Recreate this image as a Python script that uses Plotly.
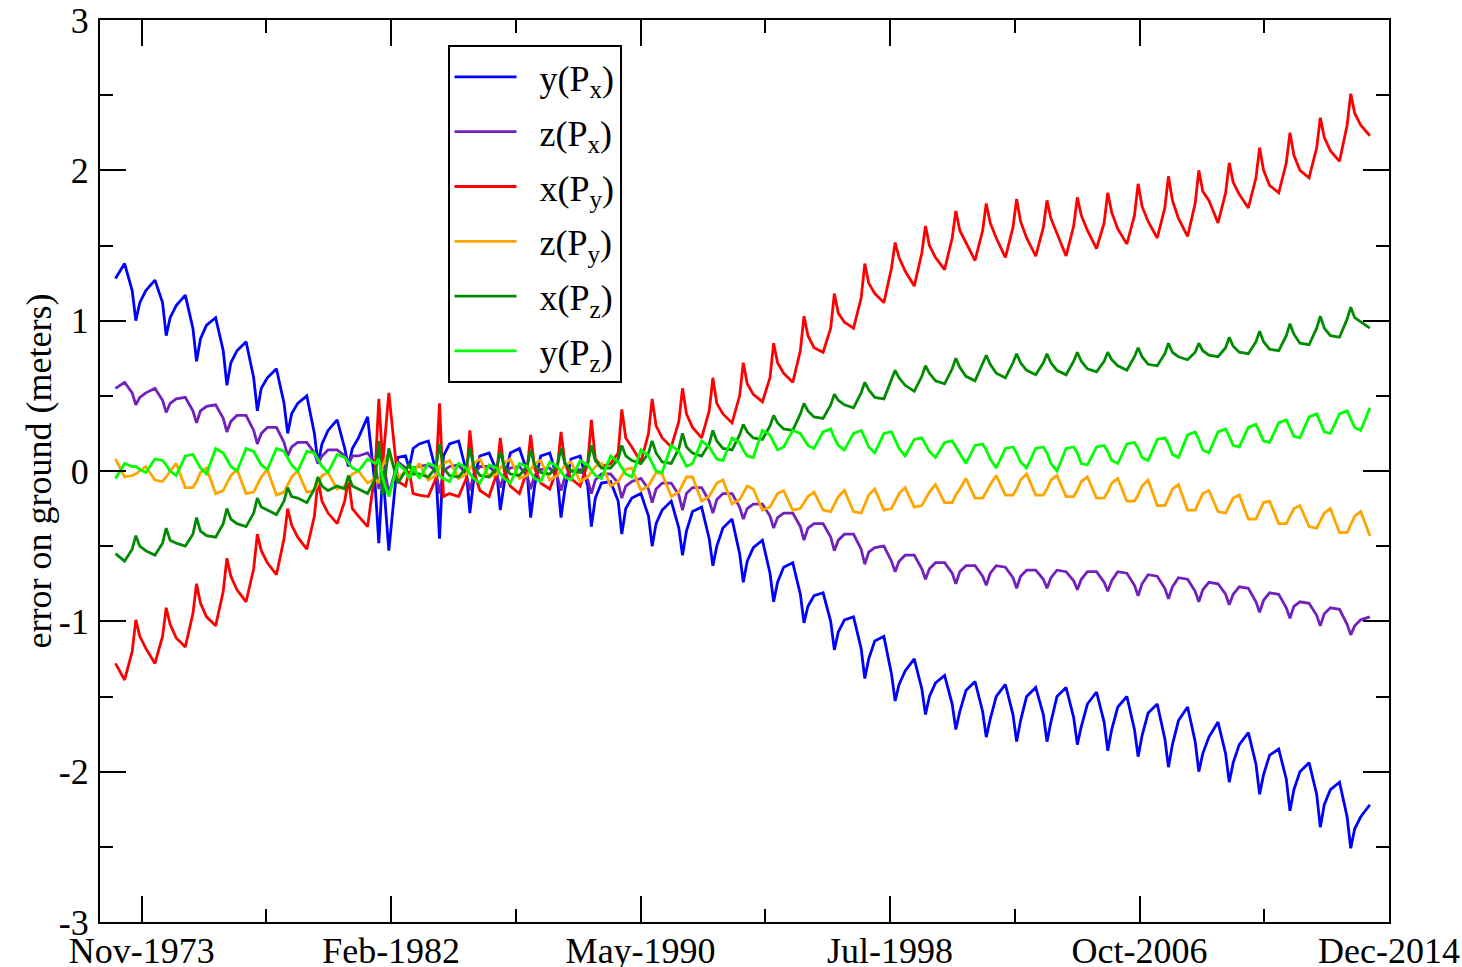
import pandas as pd
import plotly.graph_objects as go

# ---------------- data ----------------
# sample times: 5 samples per year at these fractions of the year
years = list(range(1973, 2015))
phases = [0.05, 0.35, 0.60, 0.72, 0.85]
t_end = 2014.36

# y(Px)  (blue)
y_Px = [
    1.28, 1.38, 1.20, 1.00, 1.12,      # 1973
    1.20, 1.27, 1.12, 0.90, 1.02,      # 1974
    1.10, 1.17, 0.95, 0.73, 0.88,      # 1975
    0.97, 1.02, 0.80, 0.57, 0.72,      # 1976
    0.80, 0.86, 0.62, 0.40, 0.55,      # 1977
    0.62, 0.68, 0.45, 0.25, 0.38,      # 1978
    0.45, 0.50, 0.25, 0.05, 0.18,      # 1979
    0.27, 0.34, 0.15, 0.03, 0.15,      # 1980
    0.22, 0.36, -0.10, -0.48, 0.00,    # 1981
    -0.53, 0.09, 0.10, 0.02, 0.15,     # 1982
    0.18, 0.20, 0.00, -0.45, 0.10,     # 1983
    0.18, 0.20, 0.00, -0.28, -0.05,    # 1984
    0.10, 0.12, 0.00, -0.26, -0.08,    # 1985
    0.12, 0.15, 0.00, -0.31, -0.10,    # 1986
    0.10, 0.12, -0.05, -0.31, -0.12,   # 1987
    0.08, 0.10, -0.10, -0.37, -0.18,   # 1988
    -0.08, -0.07, -0.20, -0.42, -0.25, # 1989
    -0.18, -0.15, -0.30, -0.50, -0.35, # 1990
    -0.26, -0.20, -0.38, -0.56, -0.40, # 1991
    -0.27, -0.24, -0.45, -0.63, -0.50, # 1992
    -0.38, -0.32, -0.55, -0.74, -0.60, # 1993
    -0.51, -0.46, -0.68, -0.87, -0.74, # 1994
    -0.64, -0.61, -0.82, -1.01, -0.90, # 1995
    -0.83, -0.81, -1.00, -1.19, -1.07, # 1996
    -0.99, -0.97, -1.18, -1.38, -1.25, # 1997
    -1.13, -1.10, -1.35, -1.53, -1.42, # 1998
    -1.33, -1.25, -1.45, -1.62, -1.50, # 1999
    -1.41, -1.36, -1.55, -1.72, -1.60, # 2000
    -1.46, -1.40, -1.60, -1.77, -1.65, # 2001
    -1.50, -1.42, -1.62, -1.80, -1.66, # 2002
    -1.50, -1.44, -1.62, -1.80, -1.67, # 2003
    -1.50, -1.44, -1.64, -1.82, -1.70, # 2004
    -1.55, -1.47, -1.67, -1.86, -1.72, # 2005
    -1.57, -1.50, -1.72, -1.90, -1.76, # 2006
    -1.61, -1.55, -1.78, -1.97, -1.82, # 2007
    -1.66, -1.57, -1.80, -2.00, -1.88, # 2008
    -1.77, -1.67, -1.88, -2.07, -1.94, # 2009
    -1.82, -1.74, -1.95, -2.15, -2.02, # 2010
    -1.89, -1.85, -2.05, -2.26, -2.12, # 2011
    -2.00, -1.94, -2.15, -2.37, -2.22, # 2012
    -2.12, -2.07, -2.30, -2.51, -2.38, # 2013
    -2.30, -2.22,                      # 2014
]

# z(Px)  (purple)
z_Px = [
    0.55, 0.59, 0.52, 0.44, 0.49,
    0.52, 0.55, 0.47, 0.39, 0.45,
    0.48, 0.49, 0.40, 0.32, 0.40,
    0.43, 0.44, 0.35, 0.26, 0.33,
    0.37, 0.37, 0.27, 0.18, 0.25,
    0.29, 0.29, 0.19, 0.10, 0.16,
    0.19, 0.19, 0.12, 0.05, 0.10,
    0.14, 0.14, 0.10, 0.04, 0.10,
    0.10, 0.12, 0.05, -0.12, 0.08,
    -0.15, 0.06, 0.02, -0.03, 0.02,
    0.03, 0.04, 0.00, -0.15, 0.00,
    0.03, 0.04, -0.02, -0.13, -0.02,
    0.03, 0.03, -0.02, -0.11, -0.02,
    0.02, 0.03, -0.03, -0.12, -0.03,
    0.01, 0.02, -0.04, -0.13, -0.04,
    0.00, 0.01, -0.06, -0.15, -0.06,
    -0.02, -0.02, -0.08, -0.18, -0.10,
    -0.07, -0.05, -0.12, -0.21, -0.12,
    -0.08, -0.08, -0.16, -0.26, -0.15,
    -0.11, -0.11, -0.20, -0.28, -0.19,
    -0.15, -0.15, -0.24, -0.32, -0.25,
    -0.22, -0.22, -0.30, -0.38, -0.31,
    -0.28, -0.28, -0.37, -0.46, -0.38,
    -0.35, -0.35, -0.44, -0.53, -0.46,
    -0.42, -0.42, -0.52, -0.62, -0.54,
    -0.51, -0.50, -0.60, -0.67, -0.60,
    -0.56, -0.56, -0.65, -0.72, -0.65,
    -0.61, -0.61, -0.68, -0.75, -0.67,
    -0.63, -0.63, -0.70, -0.76, -0.68,
    -0.63, -0.64, -0.71, -0.78, -0.70,
    -0.66, -0.66, -0.72, -0.78, -0.71,
    -0.66, -0.67, -0.73, -0.79, -0.72,
    -0.67, -0.67, -0.74, -0.80, -0.73,
    -0.67, -0.68, -0.76, -0.83, -0.75,
    -0.69, -0.70, -0.78, -0.85, -0.77,
    -0.71, -0.72, -0.80, -0.87, -0.79,
    -0.74, -0.75, -0.82, -0.89, -0.82,
    -0.77, -0.78, -0.87, -0.94, -0.86,
    -0.81, -0.82, -0.91, -0.98, -0.90,
    -0.87, -0.88, -0.96, -1.03, -0.95,
    -0.91, -0.92, -1.02, -1.09, -1.03,
    -0.99, -0.97,
]

# x(Py)  (red)
x_Py = [
    -1.28, -1.39, -1.20, -0.99, -1.10,
    -1.18, -1.28, -1.10, -0.91, -1.02,
    -1.11, -1.17, -0.95, -0.75, -0.88,
    -0.97, -1.03, -0.80, -0.58, -0.70,
    -0.79, -0.87, -0.65, -0.42, -0.53,
    -0.61, -0.69, -0.45, -0.25, -0.36,
    -0.44, -0.52, -0.30, -0.06, -0.20,
    -0.28, -0.35, -0.20, -0.05, -0.25,
    -0.30, -0.37, 0.00, 0.48, 0.05,
    0.52, -0.07, -0.10, 0.00, -0.15,
    -0.16, -0.17, -0.05, 0.45, -0.17,
    -0.15, -0.17, -0.05, 0.27, 0.00,
    -0.13, -0.17, -0.02, 0.22, 0.00,
    -0.10, -0.15, 0.00, 0.24, 0.02,
    -0.08, -0.12, 0.02, 0.26, 0.05,
    -0.05, -0.10, 0.05, 0.34, 0.08,
    0.03, 0.05, 0.12, 0.41, 0.22,
    0.16, 0.06, 0.25, 0.48, 0.30,
    0.22, 0.16, 0.33, 0.55, 0.38,
    0.29, 0.22, 0.40, 0.62, 0.45,
    0.38, 0.32, 0.50, 0.72, 0.58,
    0.51, 0.46, 0.62, 0.85, 0.72,
    0.65, 0.59, 0.80, 1.03, 0.90,
    0.82, 0.79, 0.95, 1.18, 1.05,
    0.99, 0.95, 1.15, 1.38, 1.25,
    1.18, 1.12, 1.35, 1.52, 1.42,
    1.33, 1.23, 1.45, 1.63, 1.50,
    1.42, 1.34, 1.55, 1.73, 1.60,
    1.52, 1.40, 1.60, 1.78, 1.65,
    1.55, 1.42, 1.62, 1.81, 1.66,
    1.55, 1.43, 1.62, 1.80, 1.68,
    1.58, 1.43, 1.63, 1.82, 1.70,
    1.60, 1.48, 1.65, 1.85, 1.72,
    1.61, 1.51, 1.70, 1.91, 1.76,
    1.66, 1.55, 1.75, 1.96, 1.80,
    1.68, 1.56, 1.78, 2.00, 1.86,
    1.80, 1.65, 1.85, 2.05, 1.92,
    1.84, 1.75, 1.95, 2.15, 2.00,
    1.90, 1.85, 2.05, 2.25, 2.10,
    2.00, 1.95, 2.15, 2.35, 2.22,
    2.13, 2.06, 2.30, 2.51, 2.38,
    2.30, 2.23,
]

# z(Py)  (orange)
z_Py = [
    0.08, -0.04, -0.03, -0.02, 0.00,
    0.03, -0.06, -0.07, -0.04, 0.00,
    0.05, -0.11, -0.11, -0.07, -0.01,
    0.02, -0.15, -0.13, -0.08, -0.03,
    0.01, -0.15, -0.14, -0.09, -0.04,
    0.01, -0.16, -0.14, -0.09, -0.04,
    0.00, -0.14, -0.13, -0.08, -0.03,
    -0.01, -0.12, -0.10, -0.06, -0.02,
    0.00, -0.08, -0.05, -0.08, 0.04,
    0.12, -0.05, 0.00, 0.04, -0.02,
    0.05, -0.06, -0.03, 0.03, 0.05,
    0.07, -0.05, -0.02, 0.02, 0.05,
    0.08, -0.04, -0.02, 0.02, 0.05,
    0.08, -0.05, -0.03, 0.01, 0.05,
    0.07, -0.06, -0.03, 0.00, 0.04,
    0.06, -0.07, -0.04, -0.01, 0.03,
    0.05, -0.10, -0.07, -0.03, 0.01,
    0.02, -0.13, -0.10, -0.06, -0.01,
    -0.02, -0.17, -0.14, -0.09, -0.04,
    -0.04, -0.20, -0.17, -0.13, -0.08,
    -0.06, -0.22, -0.19, -0.15, -0.10,
    -0.12, -0.26, -0.24, -0.20, -0.15,
    -0.13, -0.26, -0.25, -0.21, -0.17,
    -0.14, -0.26, -0.27, -0.22, -0.17,
    -0.13, -0.27, -0.28, -0.22, -0.16,
    -0.12, -0.26, -0.25, -0.20, -0.15,
    -0.11, -0.24, -0.23, -0.19, -0.14,
    -0.09, -0.21, -0.21, -0.16, -0.12,
    -0.05, -0.18, -0.18, -0.14, -0.09,
    -0.03, -0.16, -0.16, -0.12, -0.06,
    -0.02, -0.16, -0.16, -0.12, -0.06,
    -0.03, -0.17, -0.17, -0.13, -0.07,
    -0.04, -0.18, -0.18, -0.14, -0.08,
    -0.05, -0.20, -0.20, -0.16, -0.10,
    -0.06, -0.23, -0.23, -0.18, -0.12,
    -0.09, -0.26, -0.26, -0.21, -0.15,
    -0.13, -0.27, -0.28, -0.23, -0.18,
    -0.16, -0.32, -0.32, -0.27, -0.21,
    -0.20, -0.35, -0.35, -0.30, -0.25,
    -0.23, -0.37, -0.38, -0.33, -0.28,
    -0.25, -0.41, -0.41, -0.36, -0.30,
    -0.27, -0.43,
]

# x(Pz)  (dark green)
x_Pz = [
    -0.55, -0.60, -0.52, -0.43, -0.50,
    -0.53, -0.56, -0.48, -0.38, -0.46,
    -0.48, -0.50, -0.42, -0.31, -0.40,
    -0.43, -0.44, -0.35, -0.25, -0.32,
    -0.35, -0.37, -0.28, -0.18, -0.24,
    -0.26, -0.29, -0.20, -0.11, -0.17,
    -0.18, -0.21, -0.12, -0.04, -0.10,
    -0.13, -0.10, -0.12, -0.03, -0.10,
    -0.12, -0.15, -0.05, 0.20, -0.16,
    0.15, -0.08, 0.00, 0.05, -0.02,
    -0.02, -0.04, 0.02, 0.18, 0.02,
    -0.03, -0.04, 0.02, 0.15, 0.03,
    -0.03, -0.04, 0.02, 0.13, 0.03,
    -0.02, -0.03, 0.03, 0.14, 0.04,
    -0.01, -0.02, 0.04, 0.15, 0.05,
    0.00, -0.01, 0.05, 0.17, 0.07,
    0.02, 0.02, 0.08, 0.17, 0.10,
    0.07, 0.05, 0.12, 0.20, 0.12,
    0.06, 0.05, 0.15, 0.25, 0.16,
    0.12, 0.10, 0.18, 0.27, 0.20,
    0.15, 0.14, 0.24, 0.31, 0.26,
    0.22, 0.21, 0.30, 0.37, 0.32,
    0.28, 0.27, 0.38, 0.45, 0.40,
    0.36, 0.35, 0.44, 0.51, 0.47,
    0.44, 0.42, 0.52, 0.59, 0.54,
    0.49, 0.48, 0.60, 0.67, 0.62,
    0.57, 0.53, 0.63, 0.70, 0.65,
    0.60, 0.58, 0.68, 0.75, 0.69,
    0.63, 0.60, 0.71, 0.77, 0.71,
    0.65, 0.62, 0.72, 0.78, 0.72,
    0.67, 0.64, 0.72, 0.78, 0.72,
    0.67, 0.64, 0.73, 0.79, 0.73,
    0.68, 0.66, 0.73, 0.79, 0.74,
    0.70, 0.67, 0.76, 0.82, 0.76,
    0.71, 0.70, 0.78, 0.85, 0.79,
    0.76, 0.74, 0.79, 0.85, 0.80,
    0.77, 0.76, 0.82, 0.89, 0.83,
    0.79, 0.78, 0.86, 0.93, 0.86,
    0.81, 0.80, 0.90, 0.98, 0.91,
    0.85, 0.84, 0.95, 1.03, 0.95,
    0.90, 0.89, 1.01, 1.09, 1.02,
    0.99, 0.95,
]

# y(Pz)  (light green)
y_Pz = [
    -0.05, 0.05, 0.03, 0.03, 0.01,
    -0.01, 0.08, 0.07, 0.04, 0.00,
    -0.03, 0.10, 0.11, 0.07, 0.02,
    -0.02, 0.15, 0.12, 0.08, 0.03,
    0.00, 0.15, 0.13, 0.09, 0.04,
    0.01, 0.15, 0.13, 0.09, 0.04,
    0.00, 0.13, 0.12, 0.08, 0.03,
    -0.01, 0.11, 0.09, 0.06, 0.02,
    0.00, 0.08, 0.05, 0.08, -0.05,
    -0.17, 0.05, 0.00, -0.05, 0.03,
    -0.05, 0.05, 0.03, -0.03, -0.05,
    -0.07, 0.05, 0.02, -0.02, -0.05,
    -0.08, 0.04, 0.02, -0.02, -0.05,
    -0.08, 0.05, 0.03, -0.01, -0.05,
    -0.07, 0.06, 0.03, 0.00, -0.04,
    -0.06, 0.07, 0.04, 0.01, -0.03,
    -0.05, 0.10, 0.06, 0.02, -0.02,
    -0.04, 0.14, 0.10, 0.05, 0.00,
    -0.01, 0.17, 0.13, 0.08, 0.03,
    0.05, 0.20, 0.16, 0.12, 0.08,
    0.07, 0.22, 0.19, 0.14, 0.10,
    0.09, 0.27, 0.24, 0.19, 0.14,
    0.16, 0.27, 0.25, 0.21, 0.17,
    0.15, 0.26, 0.28, 0.22, 0.17,
    0.14, 0.25, 0.27, 0.22, 0.16,
    0.12, 0.25, 0.26, 0.21, 0.15,
    0.10, 0.21, 0.22, 0.18, 0.13,
    0.09, 0.19, 0.20, 0.16, 0.11,
    0.05, 0.17, 0.18, 0.14, 0.08,
    0.02, 0.15, 0.16, 0.12, 0.06,
    0.02, 0.15, 0.16, 0.12, 0.05,
    0.00, 0.15, 0.16, 0.12, 0.05,
    0.04, 0.16, 0.17, 0.13, 0.07,
    0.05, 0.18, 0.19, 0.15, 0.09,
    0.07, 0.21, 0.22, 0.18, 0.11,
    0.09, 0.24, 0.26, 0.21, 0.14,
    0.12, 0.26, 0.28, 0.23, 0.17,
    0.16, 0.29, 0.31, 0.26, 0.20,
    0.19, 0.32, 0.34, 0.29, 0.23,
    0.22, 0.36, 0.38, 0.32, 0.26,
    0.25, 0.38, 0.40, 0.35, 0.29,
    0.27, 0.42,
]

series_names = ["y(P<sub>x</sub>)", "z(P<sub>x</sub>)", "x(P<sub>y</sub>)",
                "z(P<sub>y</sub>)", "x(P<sub>z</sub>)", "y(P<sub>z</sub>)"]
series_values = [y_Px, z_Px, x_Py, z_Py, x_Pz, y_Pz]

# x-axis ticks: every 3000 days starting from late Nov 1973
tick_origin = "1973-11-30"
tick_step_days = 3000
tick_labels = ["Nov-1973", "Feb-1982", "May-1990", "Jul-1998", "Oct-2006", "Dec-2014"]
axis_start_offset_days = -501

# y-axis ticks (plain hyphen minus as in the original)
y_tickvals = [-3, -2, -1, 0, 1, 2, 3]
y_ticktext = ["-3", "-2", "-1", "0", "1", "2", "3"]

# ---------------- build ----------------
t_dec = [y + p for y in years for p in phases if y + p <= t_end]
dates = [pd.Timestamp(year=int(t), month=1, day=1) + pd.Timedelta(days=(t - int(t)) * 365.25)
         for t in t_dec]
for v in series_values:
    assert len(v) == len(dates), (len(v), len(dates))

base = pd.Timestamp(tick_origin)
tickvals = [base + pd.Timedelta(days=k * tick_step_days) for k in range(len(tick_labels))]
minor_vals = [base + pd.Timedelta(days=(k + 0.5) * tick_step_days) for k in range(len(tick_labels) - 1)]
x_range = [base + pd.Timedelta(days=axis_start_offset_days), tickvals[-1]]

colors = ["#0000ff", "#7221bc", "#ff0000", "#ffa500", "#008b00", "#00ff00"]

fig = go.Figure()
for i, (name, vals) in enumerate(zip(series_names, series_values)):
    fig.add_trace(go.Scatter(
        x=dates, y=vals, mode="lines", name="\u00a0\u00a0" + name,
        line=dict(color=colors[i], width=2.8),
        legendgroup=f"g{i}",
    ))

font_family = "Liberation Serif"
fig.update_layout(
    width=1462, height=967,
    margin=dict(l=100, r=73, t=20, b=45),
    paper_bgcolor="white", plot_bgcolor="white",
    font=dict(family=font_family, size=36, color="black"),
    showlegend=True,
    legend=dict(
        x=0.2696, y=0.9723, xanchor="left", yanchor="top",
        bgcolor="white", bordercolor="black", borderwidth=2,
        font=dict(family=font_family, size=36, color="black"),
        tracegroupgap=5, itemwidth=62,
    ),
    xaxis=dict(
        type="date", range=x_range,
        tickmode="array", tickvals=tickvals, ticktext=tick_labels,
        ticks="inside", ticklen=26, tickwidth=2, tickcolor="black",
        minor=dict(tickmode="array", tickvals=minor_vals, ticks="inside",
                   ticklen=13, tickwidth=2, tickcolor="black"),
        showline=True, linewidth=2, linecolor="black", mirror="ticks",
        showgrid=False, zeroline=False, automargin=False,
        tickfont=dict(family=font_family, size=36),
        ticklabelstandoff=-4, ticklabeloverflow="allow",
    ),
    yaxis=dict(
        range=[-3, 3], tickmode="array", tickvals=y_tickvals, ticktext=y_ticktext,
        ticks="inside", ticklen=26, tickwidth=2, tickcolor="black",
        minor=dict(dtick=0.5, tick0=-3, ticks="inside", ticklen=13, tickwidth=2, tickcolor="black"),
        showline=True, linewidth=2, linecolor="black", mirror="ticks",
        showgrid=False, zeroline=False, automargin=False,
        tickfont=dict(family=font_family, size=36),
        ticklabelstandoff=2, ticklabeloverflow="allow",
    ),
    annotations=[dict(
        text="error on ground (meters)", xref="paper", yref="paper",
        x=-0.047, y=0.5, xanchor="center", yanchor="middle", textangle=-90,
        showarrow=False, font=dict(family=font_family, size=36, color="black"),
    )],
)

# remove the default page margin so the figure fills the window exactly
fig.write_html(
    "out.html",
    config={"displayModeBar": False},
    post_script="document.body.style.margin='0';document.body.style.overflow='hidden';",
)
